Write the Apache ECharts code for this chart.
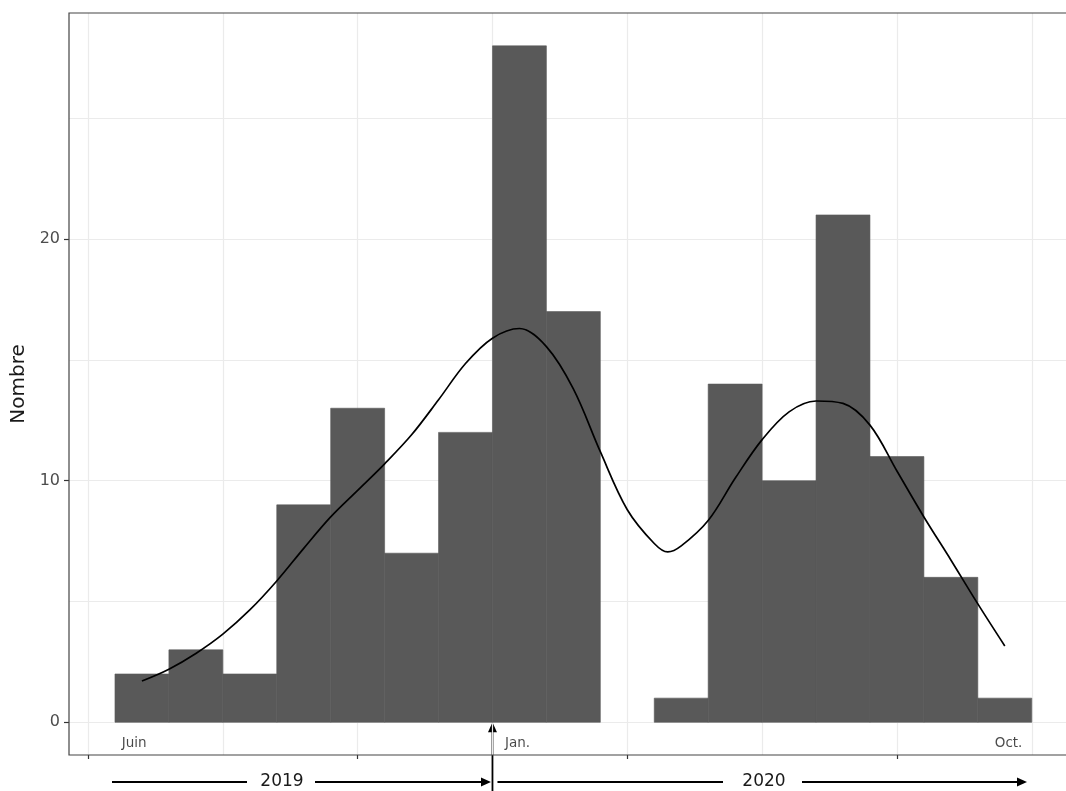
<!DOCTYPE html>
<html><head><meta charset="utf-8">
<script src="https://cdn.jsdelivr.net/npm/echarts@6/dist/echarts.min.js"></script>
<style>html,body{margin:0;padding:0;background:#fff}#c{width:1066px;height:791px}</style>
</head><body><div id="c"></div>
<script>
// Histogram bins (x units: one bin = 2 units; gridlines every 5 units)
const binStart = [1, 3, 5, 7, 9, 11, 13, 15, 17, 19, 21, 23, 25, 27, 29, 31, 33];
const binEnd   = [3, 5, 7, 9, 11, 13, 15, 17, 19, 21, 23, 25, 27, 29, 31, 33, 35];
const counts   = [2, 3, 2, 9, 13, 7, 12, 28, 17, 0, 1, 14, 10, 21, 11, 6, 1];

// Density curve (scaled to counts)
const densityX = [2, 3, 4, 5, 6, 7, 8, 9, 10, 11, 12, 13, 14, 15, 16, 17, 18, 19, 20, 21, 21.5, 22, 23, 24, 25, 26, 27, 28, 29, 30, 31, 32, 33, 34];
const densityY = [1.71, 2.2, 2.85, 3.65, 4.65, 5.85, 7.2, 8.5, 9.6, 10.7, 11.9, 13.35, 14.85, 15.9, 16.3, 15.55, 13.8, 11.2, 8.8, 7.4, 7.05, 7.3, 8.35, 10.1, 11.7, 12.85, 13.3, 13.2, 12.3, 10.4, 8.5, 6.72, 4.9, 3.16];

const xMajorTicks = [0, 10, 20, 30];
const xGridLines = [0, 5, 10, 15, 20, 25, 30, 35];
const yTickLabels = [0, 10, 20];
const yGridLines = [0, 5, 10, 15, 20, 25];
const monthLabels = ['Juin', 'Jan.', 'Oct.'];
const monthPos = [1.71, 15.93, 34.14];
const monthLabelY = -0.86;
const yearLabels = ['2019', '2020'];
const yearBoundary = 15;

const X_MIN = -0.705, X_MAX = 36.27, Y_MIN = -1.354, Y_MAX = 29.36;

const chart = echarts.init(document.getElementById('c'), null, {renderer: 'canvas'});
const FONT = 'DejaVu Sans';

const option = {
  backgroundColor: '#ffffff',
  animation: false,
  grid: {left: 69, right: 0, top: 13, bottom: 36, show: false},
  xAxis: {
    type: 'value', min: X_MIN, max: X_MAX,
    axisLine: {show: false, onZero: false},
    axisTick: {show: true, customValues: xMajorTicks, length: 4, lineStyle: {color: '#333333', width: 1.2}},
    axisLabel: {show: false, customValues: xMajorTicks},
    splitLine: {show: false}
  },
  yAxis: {
    type: 'value', min: Y_MIN, max: Y_MAX,
    name: 'Nombre', nameLocation: 'middle', nameRotate: 90, nameGap: 37,
    nameTextStyle: {fontFamily: FONT, fontSize: 20, color: '#1a1a1a'},
    axisLine: {show: false, onZero: false},
    axisTick: {show: true, customValues: yTickLabels, length: 5, lineStyle: {color: '#333333', width: 1.2}},
    axisLabel: {show: true, customValues: yTickLabels, fontFamily: FONT, fontSize: 16, color: '#4d4d4d', margin: 9},
    splitLine: {show: false}
  },
  series: [
    {
      type: 'line', data: [], z: 1, silent: true,
      markLine: {
        z: 1, silent: true, symbol: ['none', 'none'], label: {show: false},
        lineStyle: {color: '#ebebeb', type: 'solid', width: 1.2},
        data: xGridLines.map(v => ({xAxis: v})).concat(yGridLines.map(v => ({yAxis: v})))
      }
    },
    {
      type: 'custom', z: 10,
      data: counts.map((c, i) => [binStart[i], binEnd[i], c]),
      encode: {x: [0, 1], y: 2},
      renderItem: function (params, api) {
        if (!api.value(2)) return null;
        const a = api.coord([api.value(0), api.value(2)]);
        const b = api.coord([api.value(1), 0]);
        return {type: 'rect', shape: {x: a[0], y: a[1], width: b[0] - a[0], height: b[1] - a[1]}, style: {fill: '#595959', stroke: '#595959', lineWidth: 0.6}};
      }
    },
    {
      type: 'line', z: 11, smooth: 0.35, showSymbol: false, silent: true,
      data: densityX.map((x, i) => [x, densityY[i]]),
      lineStyle: {color: '#000000', width: 1.7}
    },
    {
      type: 'scatter', z: 12, symbolSize: 1, silent: true,
      itemStyle: {color: 'rgba(0,0,0,0)'},
      data: monthLabels.map((t, i) => [monthPos[i], monthLabelY, t]),
      label: {show: true, position: 'inside', formatter: p => p.data[2], fontFamily: FONT, fontSize: 13.5, color: '#1a1a1a'}
    }
  ]
};
chart.setOption(option);

// Panel border (left, top, bottom; right edge runs off the picture)
const pxL = chart.convertToPixel({xAxisIndex: 0}, X_MIN);
const pyT = chart.convertToPixel({yAxisIndex: 0}, Y_MAX);
const pyB = chart.convertToPixel({yAxisIndex: 0}, Y_MIN);

// Year annotations with arrows below the panel
const xb = chart.convertToPixel({xAxisIndex: 0}, yearBoundary);
const y0 = chart.convertToPixel({yAxisIndex: 0}, 0);
const ay = 782;
const lw = 1.8;
function hline(x1, x2) { return {type: 'line', shape: {x1: x1, y1: ay, x2: x2, y2: ay}, style: {stroke: '#000', lineWidth: lw}}; }
function headRight(tip) { return {type: 'polygon', shape: {points: [[tip, ay], [tip - 10, ay - 4.5], [tip - 10, ay + 4.5]]}, style: {fill: '#000'}}; }
const g = [
  {type: 'polyline', z: 20, shape: {points: [[1070, pyT], [pxL, pyT], [pxL, pyB], [1070, pyB]]}, style: {stroke: '#444444', lineWidth: 1.2, fill: null}},
  hline(112, 247),
  {type: 'text', style: {x: 282, y: ay, text: yearLabels[0], font: '17px "DejaVu Sans"', fill: '#1a1a1a', align: 'center', verticalAlign: 'middle'}},
  hline(315, xb - 6), headRight(xb - 1.5),
  {type: 'line', shape: {x1: xb, y1: 791, x2: xb, y2: y0 + 8}, style: {stroke: '#000', lineWidth: lw}},
  {type: 'polygon', shape: {points: [[xb, y0], [xb - 4.5, y0 + 10], [xb + 4.5, y0 + 10]]}, style: {fill: '#000'}},
  hline(xb + 5, 723),
  {type: 'text', style: {x: 764, y: ay, text: yearLabels[1], font: '17px "DejaVu Sans"', fill: '#1a1a1a', align: 'center', verticalAlign: 'middle'}},
  hline(802, 1020), headRight(1027)
];
chart.setOption({graphic: g});
</script>
</body></html>
